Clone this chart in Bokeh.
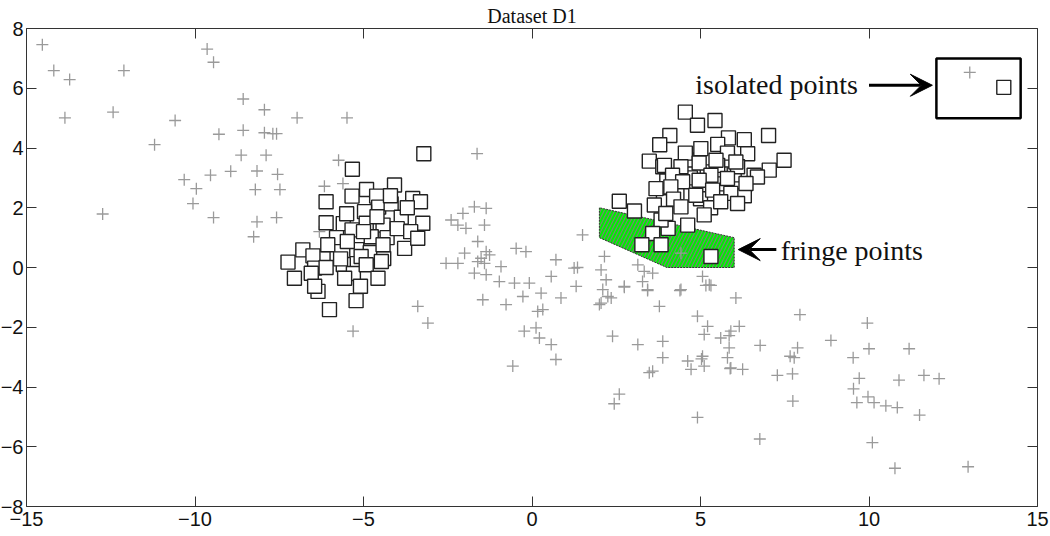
from bokeh.plotting import figure
from bokeh.models import (Range1d, LinearAxis, FixedTicker, Label, Arrow, VeeHead)
from bokeh.embed import file_html
from bokeh.resources import INLINE

# ---------------- data ----------------
plus_x = [-14.53, -14.19, -13.72, -13.86, -12.11, -12.43, -12.74, -11.2, -10.59, -9.64,
          -9.45, -10.32, -9.96, -10.06, -9.54, -9.45, -9.29, -8.94, -8.57, -8.57,
          -8.63, -8.21, -8.16, -8.16, -8.26, -7.94, -7.94, -7.69, -7.58, -7.89,
          -7.55, -7.48, -7.58, -6.97, -5.49, -5.74, -6.16, -5.61, -6.31,
          -1.63, -1.71, -1.36, -2.05, -2.4, -2.2, -1.96, -1.41, -1.61, -2.0,
          -1.36, -1.26, -2.55, -2.2, -1.61, -1.51, -1.41, -0.92, -1.71, -1.36,
          -0.97, -0.47, -0.18, -0.52, -0.08, -0.27, 0.27, 0.57, 0.71, 0.86,
          -1.46, -0.77, 0.17, 0.32, 0.12, -0.23, 0.22, 0.57, 0.71, -0.57,
          -3.39, -3.09, -5.31, 1.5, 1.25, 1.35, 2.05, 2.15, 2.2, 2.1,
          2.25, 2.05, 1.31, 2.74, 3.14, 3.33, 3.58, 3.28, 3.43, 3.78,
          4.42, 4.42, 5.06, 5.26, 6.05, 4.91, 5.21, 5.11, 5.6, 5.9,
          6.15, 5.85, 5.8, 2.39, 3.14, 3.88, 3.88, 4.62, 5.06, 5.11,
          3.48, 3.58, 4.72, 5.9, 6.25, 7.95, 9.95, 8.87, 10.0, 11.19,
          9.53, 9.71, 9.54, 9.64, 9.97, 10.15, 10.5, 10.84, 10.89, 11.63,
          12.08, 11.5, 10.1, 10.77, 12.94, 6.77, 6.76, 4.91, 7.74, 7.28,
          7.73, 7.78, 7.88, 7.66, 5.85, 2.59, 2.44, 2.0, 2.35, 5.16,
          5.31, 4.39, 2.74, 3.43, 5.03, 5.88, 12.99]
plus_y = [7.46, 6.59, 6.29, 5.01, 6.59, 5.2, 1.79, 4.11, 4.92, 7.31,
          6.87, 2.94, 2.64, 2.14, 3.09, 1.67, 4.46, 3.22, 5.64, 4.59,
          3.76, 2.61, 3.23, 1.53, 1.03, 5.28, 4.51, 4.48, 4.48, 3.76,
          3.12, 2.61, 1.67, 5.01, 5.01, 3.59, 2.72, 2.81, 1.2,
          3.81, 2.03, 1.98, 1.81, 1.59, 1.42, 1.31, 1.42, 0.87, 0.48,
          0.53, 0.42, 0.14, 0.14, 0.2, 0.31, 0.14, 0.03, -0.19, -0.24,
          -0.47, 0.64, 0.53, -0.52, -0.52, -0.97, -0.86, -0.3, 0.26, -1.02,
          -1.08, -1.24, -1.47, -1.41, -2.02, -2.13, -2.36, -2.58, -3.08, -3.3,
          -1.3, -1.86, -2.13, 1.09, -0.02, 0.0, -0.08, 0.37, -0.41, -0.74,
          -0.97, -1.19, -0.63, -0.63, 0.09, -0.13, -0.19, -0.47, -0.74, -1.3,
          0.48, -0.74, -0.3, -0.58, -1.02, -1.63, -1.97, -2.24, -2.36, -2.13,
          -1.97, -2.69, -3.02, -2.3, -2.58, -2.47, -3.02, -3.13, -2.97, -3.3,
          -3.52, -3.47, -3.41, -3.36, -3.41, -1.58, -1.86, -2.44, -2.72, -2.72,
          -3.02, -3.71, -4.06, -4.52, -4.33, -4.52, -4.63, -4.69, -3.77, -3.61,
          -3.72, -4.94, -5.86, -6.72, -6.67, -2.61, -5.74, -5.02, -4.47, -3.61,
          -3.56, -3.02, -2.69, -2.97, -2.28, -4.24, -4.56, -1.24, -1.02, -0.6,
          -0.6, -0.77, -0.66, -0.77, -3.06, -3.38, 6.53]

square_x = [-3.21, -5.33, -4.08, -4.91, -5.34, -6.11, -4.61, -3.54, -3.31, -4.55,
            -4.18, -4.97, -3.88, -6.11, -5.6, -4.92, -4.42, -3.24, -5.34, -4.77,
            -5.0, -4.6, -5.2, -4.3, -5.5, -4.0, -5.8, -4.8, -4.2, -5.6,
            -3.7, -4.4, -6.2, -5.3, -3.6,
            -6.06, -5.48, -4.42, -3.78, -3.39, -6.8, -6.5, -5.68, -5.07, -7.24,
            -6.45, -6.11, -4.92, -4.47, -7.05, -6.55, -5.56, -4.57, -5.09, -6.35,
            -5.22, -6.01, -6.45,
            5.2, 4.7, 5.6, 4.3, 5.0, 6.0, 4.6, 5.3, 4.0, 6.3, 3.9, 5.8,
            4.55, 4.91, 5.43, 7.02, 4.09, 5.83, 6.3, 3.79, 5.01, 5.51,
            4.55, 5.8, 6.4, 7.48, 3.48, 4.96, 3.88, 4.42, 5.51, 6.1,
            7.04, 6.59, 5.46, 6.05, 6.69, 3.93, 4.17, 5.31, 4.47, 4.96,
            5.8, 6.35, 3.68, 4.12, 5.36, 5.9, 4.86, 4.2, 3.63, 2.59,
            3.04, 4.42, 5.11, 4.62, 4.04, 3.83, 3.97, 3.58, 3.26, 3.83,
            5.31, 5.6, 6.1, 14.0]
square_y = [3.81, 3.29, 2.76, 2.61, 2.39, 2.2, 2.39, 2.31, 2.2, 2.02,
            2.13, 1.87, 1.68, 1.5, 1.47, 1.48, 1.42, 1.48, 1.26, 1.03,
            1.2, 1.7, 0.6, 1.0, 1.8, 1.3, 1.0, 0.5, 2.4, 0.1,
            2.0, 0.3, 0.3, -0.2, 1.2,
            0.76, 0.87, 0.76, 0.64, 0.98, 0.59, 0.39, 0.29, 0.37, 0.18,
            -0.02, 0.0, 0.09, 0.2, -0.36, -0.19, -0.36, -0.36, -0.63, -0.8,
            -1.11, -1.41, -0.63,
            3.2, 3.0, 2.8, 2.5, 2.3, 3.1, 3.6, 2.0, 2.9, 2.4, 2.2, 3.6,
            5.2, 4.76, 4.92, 4.42, 4.42, 4.34, 4.28, 4.11, 3.98, 4.12,
            3.83, 3.83, 3.81, 3.59, 3.56, 3.5, 3.37, 3.37, 3.42, 3.37,
            3.26, 3.09, 3.59, 3.53, 3.03, 3.42, 3.09, 3.09, 2.87, 2.92,
            2.98, 2.81, 2.64, 2.7, 2.59, 2.48, 2.42, 2.29, 2.09, 2.22,
            1.89, 2.03, 1.76, 1.42, 1.31, 1.59, 1.81, 1.14, 0.76, 0.76,
            0.37, 2.2, 2.14, 6.03]

x_ticks = [-15, -10, -5, 0, 5, 10, 15]
y_ticks = [-8, -6, -4, -2, 0, 2, 4, 6, 8]

fringe_x = [2, 2, 4, 6, 6]
fringe_y = [2, 1, 0, 0, 1]
isolated_box = dict(left=12.0, right=14.5, bottom=5.0, top=7.0)

# ---------------- figure ----------------
p = figure(width=1054, height=536, output_backend="svg", toolbar_location=None,
           x_range=Range1d(-15, 15), y_range=Range1d(-8, 8),
           min_border_left=30, min_border_right=13, min_border_top=26,
           min_border_bottom=30, background_fill_color="white",
           border_fill_color="white", outline_line_color=None)
p.styles = {"margin": "0px -8px -8px -4px"}
p.grid.visible = False

p.title.text = "Dataset D1"
p.title.align = "center"
p.title.text_font = "Liberation Serif"
p.title.text_font_size = "20px"
p.title.text_font_style = "normal"
p.title.text_color = "#111111"
p.title.standoff = 4
p.title.offset = 0


def minus(v):
    return str(v).replace("-", "\u2212")


def style_axis(ax, ticks, labels=True):
    ax.ticker = FixedTicker(ticks=ticks)
    ax.axis_line_color = "#333333"
    ax.axis_line_width = 1
    ax.major_tick_line_color = "#333333"
    ax.major_tick_in = 10
    ax.major_tick_out = 0
    ax.minor_tick_line_color = None
    if labels:
        ax.major_label_overrides = {t: minus(t) for t in ticks}
        ax.major_label_text_font = "Liberation Sans"
        ax.major_label_text_font_size = "20px"
        ax.major_label_text_color = "#111111"
    else:
        ax.major_label_text_font_size = "1px"
        ax.major_label_text_color = None
        ax.major_label_standoff = 0


style_axis(p.xaxis[0], x_ticks)
p.xaxis[0].major_label_standoff = 5
style_axis(p.yaxis[0], y_ticks)
p.yaxis[0].major_label_standoff = 3

top_ax = LinearAxis()
style_axis(top_ax, x_ticks, labels=False)
p.add_layout(top_ax, "above")
right_ax = LinearAxis()
style_axis(right_ax, y_ticks, labels=False)
p.add_layout(right_ax, "right")

# fringe region
p.patch(fringe_x, fringe_y, fill_color="#00ee00", hatch_pattern="/",
        hatch_color="#7c7c7c", hatch_scale=7, hatch_weight=1.1,
        line_color="#333333", line_dash="2 1", line_width=1)

# points
p.scatter(plus_x, plus_y, marker="cross", size=12, line_color="#9a9a9a",
          line_width=1.3)
p.scatter(square_x, square_y, marker="square", size=14, fill_color="white",
          line_color="#222222", line_width=1.4)

# isolated points box
p.quad(left=[isolated_box["left"]], right=[isolated_box["right"]],
       bottom=[isolated_box["bottom"]], top=[isolated_box["top"]],
       fill_color=None, line_color="black", line_width=2.5)

# arrows and labels
p.add_layout(Arrow(end=VeeHead(size=22, fill_color="black", line_color="black"),
                   x_start=10.0, y_start=6.1, x_end=11.88, y_end=6.1,
                   line_width=3, line_color="black"))
p.add_layout(Label(x=9.67, y=6.13, text="isolated points", text_align="right",
                   text_baseline="middle", text_font="Liberation Serif",
                   text_font_size="28px", text_color="#111111"))
p.add_layout(Arrow(end=VeeHead(size=22, fill_color="black", line_color="black"),
                   x_start=7.25, y_start=0.6, x_end=6.12, y_end=0.6,
                   line_width=3, line_color="black"))
p.add_layout(Label(x=7.38, y=0.58, text="fringe points", text_align="left",
                   text_baseline="middle", text_font="Liberation Serif",
                   text_font_size="28px", text_color="#111111"))

open("out.html", "w").write(file_html(p, INLINE))
